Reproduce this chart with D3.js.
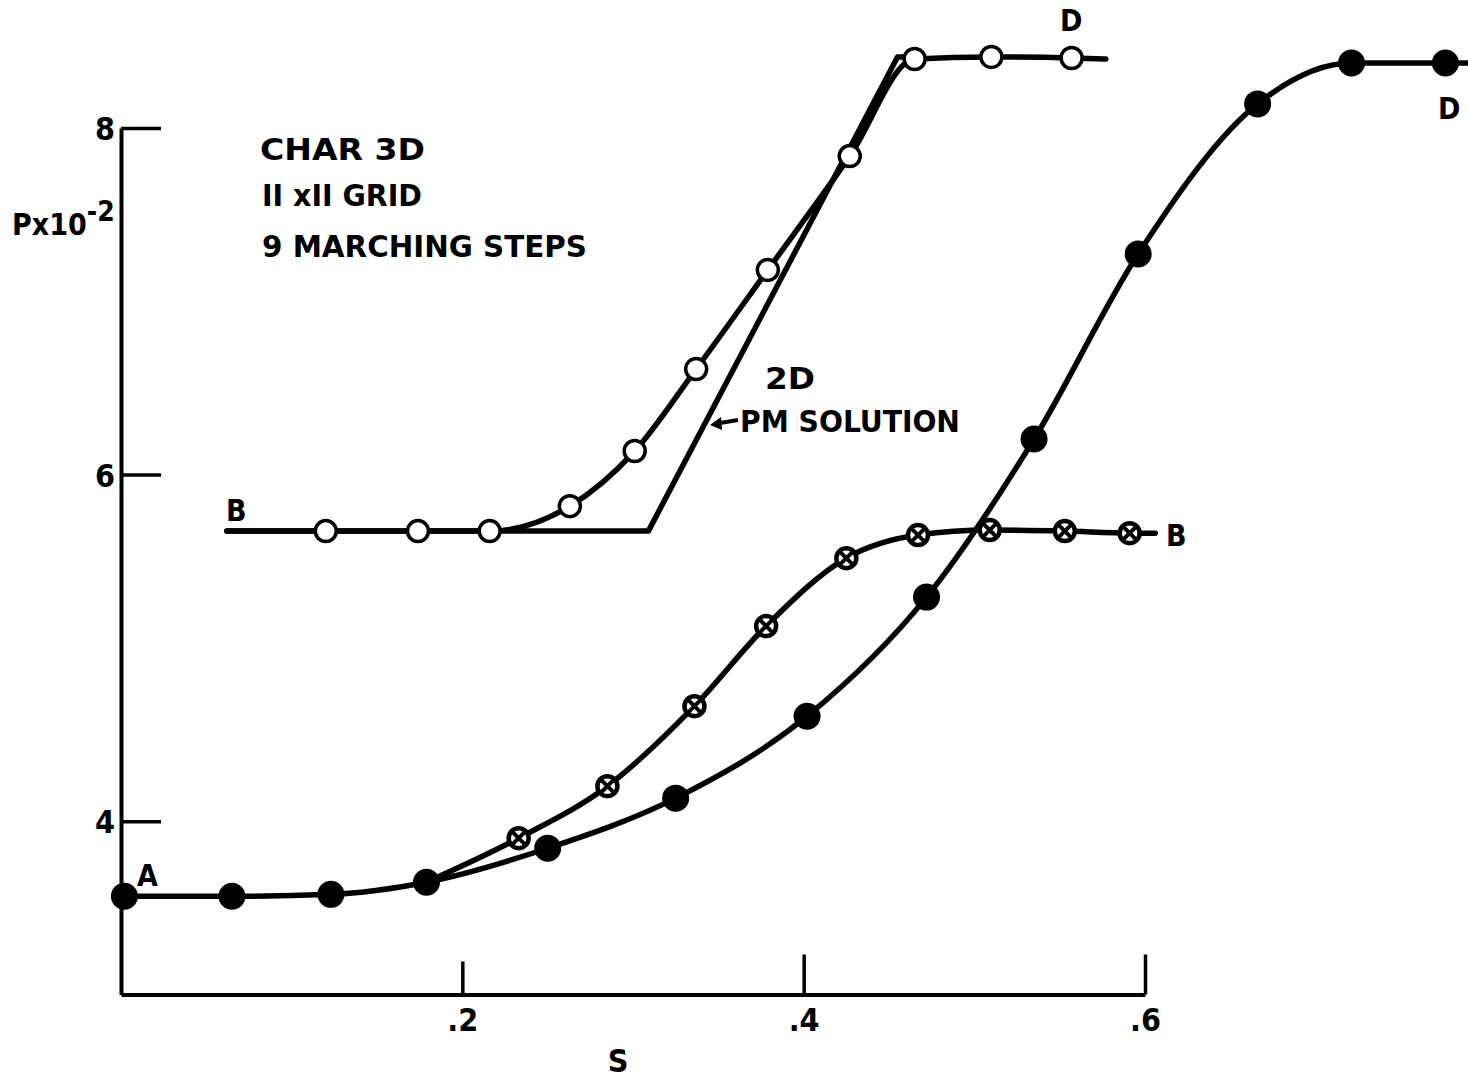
<!DOCTYPE html>
<html>
<head>
<meta charset="utf-8">
<script src="https://d3js.org/d3.v7.min.js"></script>
<style>
  body { margin: 0; background: #fff; }
  svg text { font-family: "DejaVu Sans Condensed", "Liberation Sans Narrow", "Liberation Sans", sans-serif; font-weight: bold; fill: #000; }
</style>
</head>
<body>
<div id="viz"></div>
<script>
// 3D characteristics, solid dots (A -> D)
var solidS = [0.002, 0.065, 0.123, 0.179, 0.250, 0.325, 0.402, 0.472, 0.535, 0.596, 0.666, 0.721, 0.776];
var solidP = [3.567, 3.567, 3.578, 3.648, 3.844, 4.133, 4.606, 5.293, 6.205, 7.273, 8.139, 8.375, 8.375];
var solidEnd = [0.80, 8.375];

// crossed circles (A -> B), branching off the solid curve
var crossS = [0.233, 0.285, 0.336, 0.378, 0.425, 0.467, 0.509, 0.553, 0.591];
var crossP = [3.902, 4.202, 4.664, 5.126, 5.518, 5.651, 5.680, 5.674, 5.662];
var crossStart = [0.179, 3.648];
var crossEnd = [0.606, 5.662];

// open circles (B -> D)
var openS = [0.120, 0.174, 0.216, 0.263, 0.301, 0.337, 0.379, 0.427, 0.465, 0.510, 0.557];
var openP = [5.674, 5.674, 5.674, 5.818, 6.136, 6.609, 7.181, 7.838, 8.398, 8.410, 8.404];
var openStart = [0.062, 5.674];
var openEnd = [0.577, 8.398];

// 2D PM solution
var pmS = [0.062, 0.309, 0.455, 0.465];
var pmP = [5.674, 5.674, 8.410, 8.410];

var xTicks = [0.2, 0.4, 0.6];
var xTickLabels = [".2", ".4", ".6"];
var yTicks = [4, 6, 8];
var yTickLabels = ["4", "6", "8"];

var W = 1468, H = 1079;
var svg = d3.select("#viz").append("svg").attr("width", W).attr("height", H);

var x = d3.scaleLinear().domain([0, 0.6]).range([121, 1145]);
var y = d3.scaleLinear().domain([3, 8]).range([994.5, 128]);

function pts(s, p) { return s.map(function(d, i) { return [d, p[i]]; }); }

// axes
var xAxis = d3.axisBottom(x).tickValues(xTicks)
    .tickFormat(function(d, i) { return xTickLabels[i]; })
    .tickSizeInner(-38).tickSizeOuter(0).tickPadding(14);
var gx = svg.append("g").attr("transform", "translate(0," + y(3) + ")").call(xAxis);
gx.selectAll(".tick line").attr("y2", function(d) { return d === 0.2 ? -33 : -40; });

var yAxis = d3.axisLeft(y).tickValues(yTicks)
    .tickFormat(function(d, i) { return yTickLabels[i]; })
    .tickSizeInner(-40).tickSizeOuter(0).tickPadding(6);
var gy = svg.append("g").attr("transform", "translate(" + x(0) + ",0)").call(yAxis);

[gx, gy].forEach(function(g) {
  g.select(".domain").attr("stroke-width", 4);
  g.selectAll(".tick line").attr("stroke-width", 3.5);
  g.selectAll(".tick text").style("font-size", "32px").attr("font-family", null);
});
gy.selectAll(".tick text").attr("dy", "0.36em");

svg.append("text").attr("x", 618).attr("y", 1072).attr("text-anchor", "middle")
  .style("font-size", "32px").text("S");
var yl = svg.append("text").attr("x", 12).attr("y", 235).style("font-size", "30px");
yl.append("tspan").text("Px10");
yl.append("tspan").attr("dy", -14).style("font-size", "28px").text("-2");

// lines
var smooth = d3.line().x(function(d) { return x(d[0]); }).y(function(d) { return y(d[1]); })
  .curve(d3.curveMonotoneX);
var straight = d3.line().x(function(d) { return x(d[0]); }).y(function(d) { return y(d[1]); });

var lines = svg.append("g").attr("fill", "none").attr("stroke", "#000")
  .attr("stroke-width", 5.5).attr("stroke-linecap", "round").attr("stroke-linejoin", "round");

lines.append("path").attr("d", straight(pts(pmS, pmP)));
lines.append("path").attr("d", smooth([openStart].concat(pts(openS, openP), [openEnd])));
lines.append("path").attr("d", smooth([crossStart].concat(pts(crossS, crossP), [crossEnd])));
lines.append("path").attr("d", smooth(pts(solidS, solidP).concat([solidEnd])));

// markers
svg.append("g").selectAll("circle").data(pts(openS, openP)).join("circle")
  .attr("cx", function(d) { return x(d[0]); }).attr("cy", function(d) { return y(d[1]); })
  .attr("r", 10.5).attr("fill", "#fff").attr("stroke", "#000").attr("stroke-width", 3.5);

var cross = svg.append("g").selectAll("g").data(pts(crossS, crossP)).join("g")
  .attr("transform", function(d) { return "translate(" + x(d[0]) + "," + y(d[1]) + ")"; });
cross.append("circle").attr("r", 10).attr("fill", "#fff").attr("stroke", "#000").attr("stroke-width", 4.5);
cross.append("path").attr("d", "M-6,-6L6,6M6,-6L-6,6").attr("stroke", "#000").attr("stroke-width", 4);

svg.append("g").selectAll("circle").data(pts(solidS, solidP)).join("circle")
  .attr("cx", function(d) { return x(d[0]); }).attr("cy", function(d) { return y(d[1]); })
  .attr("r", 13.5).attr("fill", "#000");

// annotations
function label(t, px, py, size, len) {
  var el = svg.append("text").attr("x", px).attr("y", py).style("font-size", size + "px").text(t);
  if (len) el.attr("textLength", len).attr("lengthAdjust", "spacingAndGlyphs");
  return el;
}
label("CHAR  3D", 260, 160, 31, 165);
label("II xII GRID", 262, 206, 31, 160);
label("9 MARCHING STEPS", 262, 257, 31, 325);
label("2D", 765, 389, 31, 50);
label("PM  SOLUTION", 740, 432, 31, 220);
label("B", 226, 521, 30);
label("B", 1166, 546, 30);
label("D", 1060, 31, 30);
label("D", 1438, 119, 30);
label("A", 137, 886, 30);

// arrow to the PM line
svg.append("path").attr("d", "M714,424L738,420").attr("stroke", "#000").attr("stroke-width", 4);
svg.append("path").attr("d", "M710,425L721,417L722,430Z").attr("fill", "#000");
</script>
</body>
</html>
